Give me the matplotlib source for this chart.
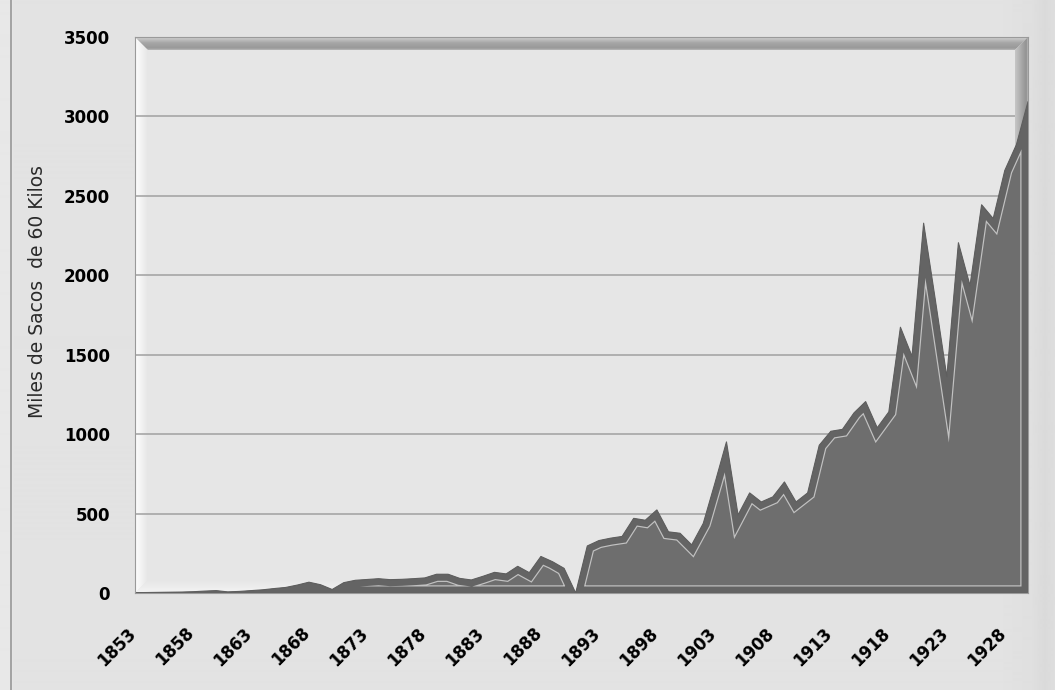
import numpy as np
import matplotlib
matplotlib.use("Agg")
import matplotlib.pyplot as plt
from matplotlib.patches import Polygon
from matplotlib.lines import Line2D
from matplotlib.transforms import ScaledTranslation

# ---------------- data ----------------
years = list(range(1853, 1931))
sacos = [2, 3, 4, 5, 6, 8, 12, 15, 7, 10,
         15, 20, 28, 35, 50, 68, 52, 22, 65, 80,
         85, 90, 84, 86, 90, 95, 118, 118, 92, 82,
         105, 130, 120, 168, 128, 230, 197, 155, 0, 296,
         330, 345, 356, 470, 458, 523, 385, 376, 303, 438,
         690, 951, 491, 630, 573, 605, 699, 573, 630, 930,
         1018, 1030, 1134, 1205, 1040, 1140, 1673, 1490, 2328, 1850,
         1361, 2205, 1935, 2444, 2357, 2660, 2822, 3093]
tick_years = years[::5]
tick_labels = [str(y) for y in tick_years]
y_ticks = [0, 500, 1000, 1500, 2000, 2500, 3000, 3500]
y_label = "Miles de Sacos  de 60 Kilos"

# ---------------- figure ----------------
W, H = 1055, 690
DPI = 100
fig = plt.figure(figsize=(W / DPI, H / DPI), dpi=DPI, facecolor="#e2e2e2")

def px(v):
    return v * 72.0 / DPI

# background gradient
bg = fig.add_axes([0, 0, 1, 1], zorder=-10)
bg.axis("off")
xs = np.arange(W)
shade = np.interp(xs, [0, 10, 14, 1000, 1032, 1045, 1055],
                  [0.91, 0.91, 0.888, 0.888, 0.875, 0.855, 0.87])
bg.imshow(shade[None, :], cmap="gray", vmin=0, vmax=1, aspect="auto",
          extent=[0, 1, 0, 1], interpolation="bilinear")
bg.set_xlim(0, 1)
bg.set_ylim(0, 1)

fig.add_artist(Line2D([11 / W, 11 / W], [0, 1], color="#a3a3a3", lw=1.4))

L, R, T, B = 135, 1028, 37, 593
ax = fig.add_axes([L / W, (H - B) / H, (R - L) / W, (B - T) / H])
ax.set_facecolor("#e6e6e6")

bw = 13.0 / (R - L)
bh = 13.0 / (B - T)

def grad_patch(pts, direction, pos, vals, z, ext):
    poly = Polygon(pts, closed=True, transform=ax.transAxes,
                   facecolor="none", edgecolor="none")
    ax.add_patch(poly)
    t = np.linspace(0, 1, 64)
    v = np.interp(t, pos, vals)
    img = v[None, :] if direction == "h" else v[::-1][:, None]
    im = ax.imshow(img, cmap="gray", vmin=0, vmax=1, aspect="auto",
                   extent=ext, transform=ax.transAxes, zorder=z,
                   interpolation="bilinear")
    im.set_clip_path(poly)

# left bevel (light)
grad_patch([(0, 0), (bw, bh), (bw, 1 - bh), (0, 1)], "h",
           [0, 0.4, 1], [0.99, 0.96, 0.90], 0.2, (0, bw, 0, 1))
# bottom bevel (light)
grad_patch([(0, 0), (bw, bh), (1 - bw, bh), (1, 0)], "v",
           [0, 1], [0.955, 0.90], 0.2, (0, 1, 0, bh))
# top bevel (dark)
grad_patch([(0, 1), (bw, 1 - bh), (1 - bw, 1 - bh), (1, 1)], "v",
           [0, 0.15, 0.55, 1], [0.72, 0.60, 0.65, 0.82], 0.2, (0, 1, 1 - bh, 1))
# right bevel (dark)
grad_patch([(1, 1), (1 - bw, 1 - bh), (1 - bw, bh), (1, 0)], "h",
           [0, 0.5, 0.9, 1], [0.78, 0.66, 0.57, 0.75], 0.8, (1 - bw, 1, 0, 1))

# gridlines
for yv in y_ticks[1:-1]:
    ax.axhline(yv, color="#a0a0a0", lw=1.1, zorder=0.5)

# area with bevel-like inner band
fill = ax.fill_between(years, sacos, 0, facecolor="#6e6e6e",
                       edgecolor="none", lw=0, zorder=2)
clip = fill.get_paths()[0]
w_band = 6.5
hl = ax.fill_between(years, sacos, 0, facecolor="none", edgecolor="#c2c2c2",
                     lw=px(2 * (w_band + 1.2)), zorder=2.1)
hl.set_joinstyle("miter")
hl.set_clip_path(clip, ax.transData)
band = ax.fill_between(years, sacos, 0, facecolor="none", edgecolor="#646464",
                       lw=px(2 * w_band), zorder=2.2)
band.set_joinstyle("miter")
band.set_clip_path(clip, ax.transData)
edge = ax.fill_between(years, sacos, 0, facecolor="none", edgecolor="#5e5e5e",
                       lw=0.8, zorder=2.3)

ax.set_xlim(years[0], years[-1])
ax.set_ylim(0, 3500)
for s in ax.spines.values():
    s.set_color("#9a9a9a")
    s.set_linewidth(0.8)
    s.set_zorder(3)

ax.set_yticks(y_ticks)
ax.set_yticklabels([str(v) for v in y_ticks], fontsize=12, fontweight="bold")
ax.tick_params(axis="y", length=0, pad=px(25))
ax.set_xticks(tick_years)
ax.set_xticklabels(tick_labels, rotation=45, ha="right", va="top",
                   fontsize=12, fontweight="bold")
ax.tick_params(axis="x", length=0, pad=px(31))
off = ScaledTranslation(5 / DPI, 0, fig.dpi_scale_trans)
for lab in ax.get_xticklabels():
    lab.set_transform(lab.get_transform() + off)

fig.text(38 / W, 1 - 292 / H, y_label, rotation=90, ha="center", va="center",
         fontsize=13.5, color="#2a2a2a")

fig.savefig("out.png", dpi=DPI, facecolor=fig.get_facecolor())
